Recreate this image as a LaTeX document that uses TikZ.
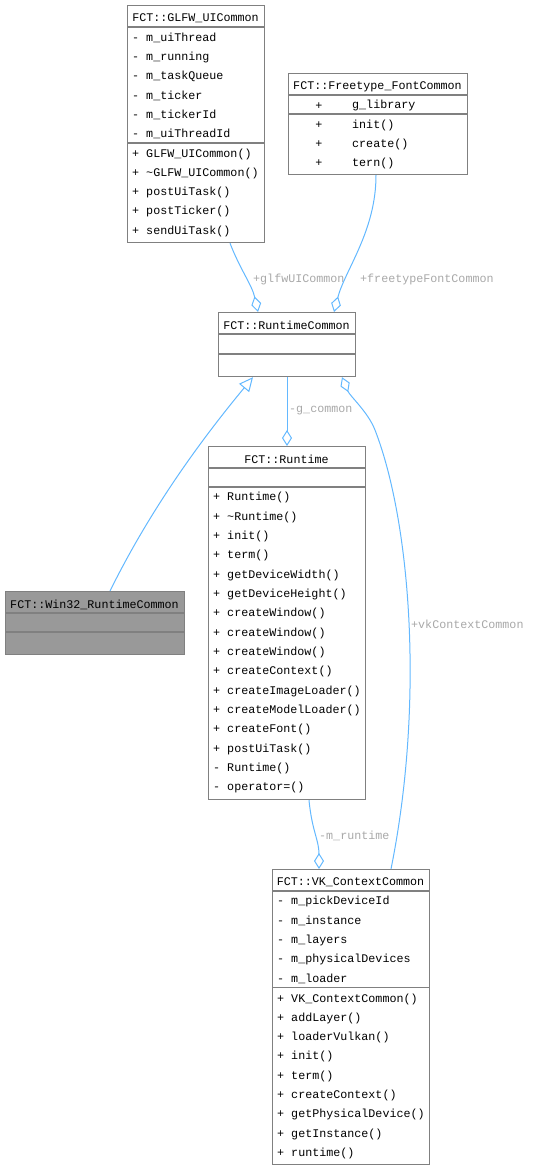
\documentclass[tikz,border=0pt]{standalone}
\usepackage{fontspec}
\newfontfamily\umlfont{Liberation Mono}
\usetikzlibrary{arrows.meta,calc}
\definecolor{boxgray}{HTML}{808080}
\definecolor{linkblue}{HTML}{63B8FF}
\definecolor{labelgray}{HTML}{A8A8A8}
\definecolor{basefill}{HTML}{999999}

\begin{document}
\begin{tikzpicture}[x=1pt,y=-1pt,
  classbox/.style={draw=boxgray,line width=1.2pt,fill=white,inner sep=0pt,anchor=north west},
  txt/.style={inner sep=0pt,font=\umlfont\fontsize{11.7}{13}\selectfont},
  member/.style={txt,anchor=west},
  sep/.style={draw=boxgray,line width=1.2pt},
  link/.style={draw=linkblue,line width=1pt},
  lbl/.style={txt,anchor=west,text=labelgray},
  agg/.style={-{Diamond[open,length=16pt,width=10pt,line width=1pt]}},
  inherit/.style={-{Triangle[open,length=14pt,width=13pt,line width=1pt]}}]
\useasboundingbox (0,0) rectangle (533,1170);

% GLFW_UICommon
\node[classbox,minimum width=137pt,minimum height=237pt] (glfw) at (127,5) {};
\node[txt] (glfw-t) at ($(glfw.north west)+(68.5,13.5)$) {FCT::GLFW\_UICommon};
\draw[sep] ($(glfw.north west)+(0,22)$) -- ($(glfw.north east)+(0,22)$);
\draw[sep] ($(glfw.north west)+(0,138)$) -- ($(glfw.north east)+(0,138)$);
\foreach \t [count=\i] in {- m\_uiThread,- m\_running,- m\_taskQueue,- m\_ticker,- m\_tickerId,- m\_uiThreadId}
  \node[member] (glfw-a\i) at ($(glfw.north west)+(5,13.4+19.3*\i)$) {\t};
\foreach \t [count=\i] in {+ GLFW\_UICommon(),+ \textasciitilde GLFW\_UICommon(),+ postUiTask(),+ postTicker(),+ sendUiTask()}
  \node[member] (glfw-m\i) at ($(glfw.north west)+(5,129.7+19.3*\i)$) {\t};

% Freetype_FontCommon
\node[classbox,minimum width=179pt,minimum height=101pt] (ft) at (288,73) {};
\node[txt] (ft-t) at ($(ft.north west)+(89.5,13.5)$) {FCT::Freetype\_FontCommon};
\draw[sep] ($(ft.north west)+(0,22)$) -- ($(ft.north east)+(0,22)$);
\draw[sep] ($(ft.north west)+(0,41)$) -- ($(ft.north east)+(0,41)$);
\foreach \t [count=\i] in {g\_library,init(),create(),tern()} {
  \node[txt] (ft-p\i) at ($(ft.north west)+(31,13.4+19.3*\i)$) {+};
  \node[member] (ft-n\i) at ($(ft.north west)+(64,13.4+19.3*\i)$) {\t};
}

% RuntimeCommon
\node[classbox,minimum width=137pt,minimum height=64pt] (rc) at (218,312) {};
\node[txt] (rc-t) at ($(rc.north west)+(68.5,13.5)$) {FCT::RuntimeCommon};
\draw[sep] ($(rc.north west)+(0,22)$) -- ($(rc.north east)+(0,22)$);
\draw[sep] ($(rc.north west)+(0,42)$) -- ($(rc.north east)+(0,42)$);

% Win32_RuntimeCommon
\node[classbox,fill=basefill,minimum width=179pt,minimum height=63pt] (win) at (5,591) {};
\node[txt] (win-t) at ($(win.north west)+(89.5,13.5)$) {FCT::Win32\_RuntimeCommon};
\draw[sep] ($(win.north west)+(0,22)$) -- ($(win.north east)+(0,22)$);
\draw[sep] ($(win.north west)+(0,41)$) -- ($(win.north east)+(0,41)$);

% Runtime
\node[classbox,minimum width=157pt,minimum height=353pt] (rt) at (208,446) {};
\node[txt] (rt-t) at ($(rt.north west)+(78.5,13.5)$) {FCT::Runtime};
\draw[sep] ($(rt.north west)+(0,22)$) -- ($(rt.north east)+(0,22)$);
\draw[sep] ($(rt.north west)+(0,41)$) -- ($(rt.north east)+(0,41)$);
\foreach \t [count=\i] in {+ Runtime(),+ \textasciitilde Runtime(),+ init(),+ term(),+ getDeviceWidth(),+ getDeviceHeight(),+ createWindow(),+ createWindow(),+ createWindow(),+ createContext(),+ createImageLoader(),+ createModelLoader(),+ createFont(),+ postUiTask(),- Runtime(),- operator=()}
  \node[member] (rt-m\i) at ($(rt.north west)+(5,32.4+19.33*\i)$) {\t};

% VK_ContextCommon
\node[classbox,minimum width=157pt,minimum height=295pt] (vk) at (272,869) {};
\node[txt] (vk-t) at ($(vk.north west)+(78.5,13.5)$) {FCT::VK\_ContextCommon};
\draw[sep] ($(vk.north west)+(0,22)$) -- ($(vk.north east)+(0,22)$);
\draw[sep] ($(vk.north west)+(0,118.3)$) -- ($(vk.north east)+(0,118.3)$);
\foreach \t [count=\i] in {- m\_pickDeviceId,- m\_instance,- m\_layers,- m\_physicalDevices,- m\_loader}
  \node[member] (vk-a\i) at ($(vk.north west)+(5,13.4+19.3*\i)$) {\t};
\foreach \t [count=\i] in {+ VK\_ContextCommon(),+ addLayer(),+ loaderVulkan(),+ init(),+ term(),+ createContext(),+ getPhysicalDevice(),+ getInstance(),+ runtime()}
  \node[member] (vk-m\i) at ($(vk.north west)+(5,110.7+19.3*\i)$) {\t};

% Members
\draw[link,agg] ($(glfw.south west)+(103,0)$) .. controls +(10,26) and +(-6,-27) .. ($(rc.north west)+(40,0)$);
\node[lbl] (l-glfw) at (253,279) {+glfwUICommon};
\draw[link,agg] ($(ft.south west)+(88,0)$) .. controls +(0,56) and +(11,-42) .. ($(rc.north west)+(116,0)$);
\node[lbl] (l-ft) at (360,279) {+freetypeFontCommon};
\draw[link,agg] ($(rc.south west)+(69,0)$) -- ($(rt.north west)+(79,0)$);
\node[lbl] (l-gc) at (289,411) {-g\_common};
\coordinate (vkbend) at (375,430);
\draw[link,agg] ($(vk.north west)+(119,0)$) .. controls +(34,-169) and +(35,90) .. (vkbend)
  .. controls +(-7,-18) and +(8,19) .. ($(rc.south west)+(124,0)$);
\node[lbl] (l-vk) at (411,624) {+vkContextCommon};
\draw[link,agg] ($(rt.south west)+(101,0)$) .. controls +(3,31) and +(0,-29) .. ($(vk.north west)+(47,0)$);
\node[lbl] (l-mr) at (319,836) {-m\_runtime};

% Inheritance
\draw[link,inherit] ($(win.north west)+(105,0)$) .. controls +(40,-81) and +(-53,64) .. ($(rc.south west)+(35,0)$);

\end{tikzpicture}
\end{document}
